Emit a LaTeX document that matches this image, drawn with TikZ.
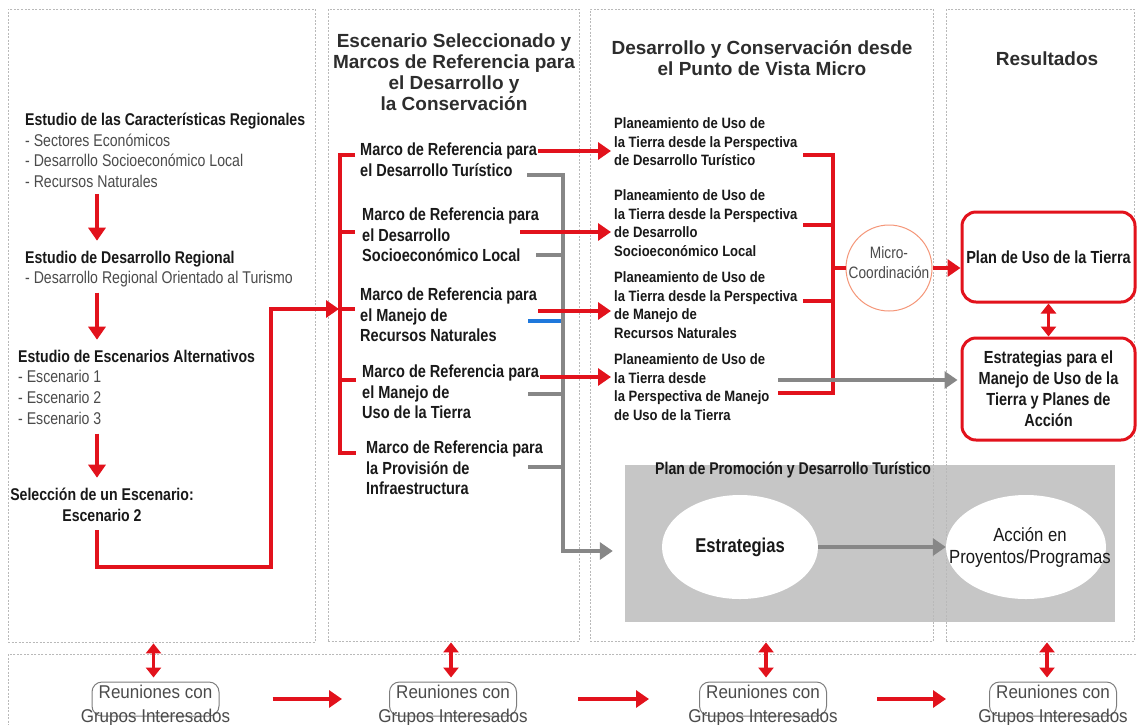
\documentclass[tikz,border=0pt]{standalone}
\usepackage{fontspec}
\setmainfont{Liberation Sans}
\newfontfamily\nar[FakeStretch=0.83]{Liberation Sans}
\newfontfamily\narc[FakeStretch=0.87]{Liberation Sans}
\newfontfamily\nard[FakeStretch=0.92]{Liberation Sans}
\newfontfamily\nare[FakeStretch=0.88]{Liberation Sans}
\usetikzlibrary{arrows.meta,shapes.geometric}
\definecolor{myred}{RGB}{226,18,28}
\definecolor{lgray}{RGB}{135,135,135}
\definecolor{bandc}{RGB}{198,198,198}
\definecolor{pancol}{RGB}{185,185,185}
\definecolor{txt}{RGB}{25,25,25}
\definecolor{txtg}{RGB}{75,75,75}
\definecolor{ttlc}{RGB}{45,45,45}
\definecolor{salm}{RGB}{245,150,120}
\definecolor{blu}{RGB}{30,120,220}
\definecolor{boxg}{RGB}{125,125,125}
\newcommand\lst[1]{{\mdseries\color{txtg}#1}}
\tikzset{
 panel/.style={draw=pancol, line width=0.8pt, dash pattern=on 2pt off 1.5pt},
 rl/.style={draw=myred, line width=3.2pt},
 ra/.style={rl, -{Triangle[length=13pt,width=17pt]}},
 gl/.style={draw=lgray, line width=3.2pt},
 ga/.style={gl, -{Triangle[length=13pt,width=17pt]}},
 bline/.style={draw=blu, line width=3.2pt},
 da/.style={rl, {Triangle[length=10pt,width=15pt]}-{Triangle[length=10pt,width=15pt]}},
 ttl/.style={inner sep=0pt, align=center, anchor=north, text=ttlc, font=\bfseries\fontsize{19}{21}\selectfont},
 lefttxt/.style={inner sep=0pt, align=left, anchor=north west, text=txt, font=\nar\bfseries\fontsize{17}{20.7}\selectfont},
 marco/.style={inner sep=0pt, align=left, anchor=north west, text=txt, font=\nar\bfseries\fontsize{17.5}{20.5}\selectfont},
 plan/.style={inner sep=0pt, align=left, anchor=north west, text=txt, font=\narc\bfseries\fontsize{15}{18.5}\selectfont},
 rbox/.style={draw=myred, line width=3pt, rounded corners=14pt, inner sep=0pt, align=center, text=txt, font=\nar\bfseries\fontsize{17.5}{21}\selectfont},
 reubox/.style={draw=boxg, line width=1pt, rounded corners=10pt, minimum width=127pt, minimum height=34pt, inner sep=0pt},
 reutxt/.style={inner sep=0pt, align=center, anchor=north, text=txtg, font=\nard\fontsize{18.5}{24}\selectfont},
 ell/.style={ellipse, fill=white, inner sep=0pt},
}
\begin{document}
\begin{tikzpicture}[x=1pt,y=-1pt]
\useasboundingbox (0,0) rectangle (1137,724);
\clip (0,0) rectangle (1137,724);
\fill[white] (0,0) rectangle (1137,724);

% grey band (behind panel borders)
\node[fill=bandc, minimum width=490pt, minimum height=157pt, inner sep=0pt] (band) at (870,543.5) {};

% panels
\node[panel, minimum width=307pt, minimum height=633pt, inner sep=0pt] (P1) at (161.5,325.5) {};
\node[panel, minimum width=251pt, minimum height=632pt, inner sep=0pt] (P2) at (453.5,325) {};
\node[panel, minimum width=343pt, minimum height=632pt, inner sep=0pt] (P3) at (761.5,325) {};
\node[panel, minimum width=188pt, minimum height=632pt, inner sep=0pt] (P4) at (1040,325) {};
\draw[panel] (8,654) rectangle (1150,760);

% titles
\node[ttl] (t2) at (454,34) {Escenario Seleccionado y\\Marcos de Referencia para\\el Desarrollo y\\la Conservación};
\node[ttl] (t3) at (762,40) {Desarrollo y Conservación desde\\el Punto de Vista Micro};
\node[ttl] (t4) at (1047,52) {Resultados};

% column 1
\node[lefttxt] (n1) at (25,112.7) {Estudio de las Características Regionales\\\lst{- Sectores Económicos}\\\lst{- Desarrollo Socioeconómico Local}\\\lst{- Recursos Naturales}};
\node[lefttxt] (n2) at (25,250.7) {Estudio de Desarrollo Regional\\\lst{- Desarrollo Regional Orientado al Turismo}};
\node[lefttxt] (n3) at (18,349.7) {Estudio de Escenarios Alternativos\\\lst{- Escenario 1}\\\lst{- Escenario 2}\\\lst{- Escenario 3}};
\node[lefttxt, align=center, anchor=north] (n4) at (102,487.7) {Selección de un Escenario:\\Escenario 2};

\coordinate (ax) at (97,0);
\draw[ra, shorten <=6pt, shorten >=10pt] (n1.south -| ax) -- (n2.north -| ax);
\draw[ra, shorten <=5pt, shorten >=10pt] (n2.south -| ax) -- (n3.north -| ax);
\draw[ra, shorten <=9pt, shorten >=10pt] (n3.south -| ax) -- (n4.north -| ax);

% column 2 items
\node[marco] (m1) at (360,142.7) {Marco de Referencia para\\el Desarrollo Turístico};
\node[marco] (m2) at (362,207.7) {Marco de Referencia para\\el Desarrollo\\Socioeconómico Local};
\node[marco] (m3) at (360,287.7) {Marco de Referencia para\\el Manejo de\\Recursos Naturales};
\node[marco] (m4) at (362,364.7) {Marco de Referencia para\\el Manejo de\\Uso de la Tierra};
\node[marco] (m5) at (366,440.7) {Marco de Referencia para\\la Provisión de\\Infraestructura};

% column 3 items
\node[plan] (p1) at (614,117.5) {Planeamiento de Uso de\\la Tierra desde la Perspectiva\\de Desarrollo Turístico};
\node[plan] (p2) at (614,189.5) {Planeamiento de Uso de\\la Tierra desde la Perspectiva\\de Desarrollo\\Socioeconómico Local};
\node[plan] (p3) at (614,271.5) {Planeamiento de Uso de\\la Tierra desde la Perspectiva\\de Manejo de\\Recursos Naturales};
\node[plan] (p4) at (614,353.5) {Planeamiento de Uso de\\la Tierra desde\\la Perspectiva de Manejo\\de Uso de la Tierra};

% escenario 2 -> bracket
\coordinate (e1) at (271,567);
\coordinate (bx) at (340,0);
\coordinate (b1) at (355,155);
\coordinate (b2) at (355,232);
\coordinate (b3) at (355,309);
\coordinate (b4) at (356,380);
\coordinate (b5) at (356,453);
\draw[ra, shorten <=9pt, shorten >=1pt] (n4.south -| ax) |- (e1) |- (bx |- b3);
\draw[rl] (b1) -| (bx |- b5) -- (b5);
\draw[rl] (bx |- b2) -- (b2);
\draw[rl] (bx |- b3) -- (b3);
\draw[rl] (bx |- b4) -- (b4);

% grey collector in column 2
\coordinate (gx) at (563,0);
\coordinate (g1) at (527,175);
\coordinate (g2) at (536,255);
\coordinate (g4) at (528,394);
\coordinate (g5) at (528,467);
\coordinate (bl) at (528,321);
\coordinate (gy) at (0,551);
\draw[ga, shorten >=12pt] (g1) -| (gx |- gy) -- (band.west |- gy);
\draw[gl] (g2) -- (gx |- g2);
\draw[gl] (g4) -- (gx |- g4);
\draw[gl] (g5) -- (gx |- g5);
\draw[bline] (bl) -- ([xshift=-2pt]gx |- bl);

% red arrows column 2 -> column 3
\coordinate (r1) at (538,151);
\coordinate (r2) at (520,232);
\coordinate (r3) at (538,311);
\coordinate (r4) at (540,377);
\draw[ra, shorten >=3pt] (r1) -- (r1 -| p1.west);
\draw[ra, shorten >=3pt] (r2) -- (r2 -| p2.west);
\draw[ra, shorten >=3pt] (r3) -- (r3 -| p3.west);
\draw[ra, shorten >=3pt] (r4) -- (r4 -| p4.west);

% micro-coordination
\node[circle, draw=salm, line width=1pt, minimum size=86pt, inner sep=0pt] (mc) at (889,268) {};
\node[inner sep=0pt, align=center, text=txtg, font=\nar\fontsize{16.5}{20}\selectfont] (mct) at (889,263) {Micro-\\Coordinación};

\coordinate (qx) at (833,0);
\coordinate (q1) at (803,155);
\coordinate (q2) at (803,225);
\coordinate (q3) at (803,301);
\coordinate (q4) at (778,393);
\draw[rl] (q1) -| (qx |- q4) -- (q4);
\draw[rl] (q2) -- (qx |- q2);
\draw[rl] (q3) -- (qx |- q3);
\draw[rl] (qx |- mc.west) -- (mc.west);

% results
\node[rbox, minimum width=173pt, minimum height=90pt] (R1) at (1048.5,257) {Plan de Uso de la Tierra};
\node[rbox, minimum width=173pt, minimum height=102pt] (R2) at (1048.5,389) {Estrategias para el\\Manejo de Uso de la\\Tierra y Planes de\\Acción};
\draw[ra] (mc.east) -- (mc.east -| R1.west);
\draw[da] (R1.south) -- (R2.north);
\coordinate (g6) at (778,380);
\draw[ga, shorten >=3pt] (g6) -- (R2.west |- g6);

% band content
\node[inner sep=0pt, anchor=north west, text=txt, font=\nar\bfseries\fontsize{17}{20}\selectfont] (bt) at (655,461.7) {Plan de Promoción y Desarrollo Turístico};
\node[ell, minimum width=156pt, minimum height=104pt] (es) at (740,547) {};
\node[inner sep=0pt, text=txt, font=\nar\bfseries\fontsize{20}{24}\selectfont] (est) at (es.center) {Estrategias};
\node[ell, minimum width=160pt, minimum height=104pt] (ac) at (1026,547) {};
\node[inner sep=0pt, align=center, text=txt, font=\nare\fontsize{19}{22}\selectfont] (act) at ([xshift=4pt]ac.center) {Acción en\\Proyentos/Programas};
\draw[ga] (es.east) -- (ac.west);

% stakeholder meetings
\node[reubox] (U1) at (155.5,699) {};
\node[reubox] (U2) at (453,699) {};
\node[reubox] (U3) at (763,699) {};
\node[reubox] (U4) at (1053,699) {};
\node[reutxt] (u1) at (U1.north |- 0,685) {Reuniones con\\Grupos Interesados};
\node[reutxt] (u2) at (U2.north |- 0,685) {Reuniones con\\Grupos Interesados};
\node[reutxt] (u3) at (U3.north |- 0,685) {Reuniones con\\Grupos Interesados};
\node[reutxt] (u4) at (U4.north |- 0,685) {Reuniones con\\Grupos Interesados};

\draw[da, shorten <=1pt, shorten >=4pt] ([xshift=-2pt]U1.north |- P1.south) -- ([xshift=-2pt]U1.north);
\draw[da, shorten <=1pt, shorten >=4pt] ([xshift=-2pt]U2.north |- P2.south) -- ([xshift=-2pt]U2.north);
\draw[da, shorten <=1pt, shorten >=4pt] ([xshift=3pt]U3.north |- P3.south) -- ([xshift=3pt]U3.north);
\draw[da, shorten <=1pt, shorten >=4pt] ([xshift=-6pt]U4.north |- P4.south) -- ([xshift=-6pt]U4.north);

\draw[ra, shorten <=53pt, shorten >=47pt] (U1.east) -- (U2.west);
\draw[ra, shorten <=61pt, shorten >=50pt] (U2.east) -- (U3.west);
\draw[ra, shorten <=50pt, shorten >=43pt] (U3.east) -- (U4.west);
\end{tikzpicture}
\end{document}
